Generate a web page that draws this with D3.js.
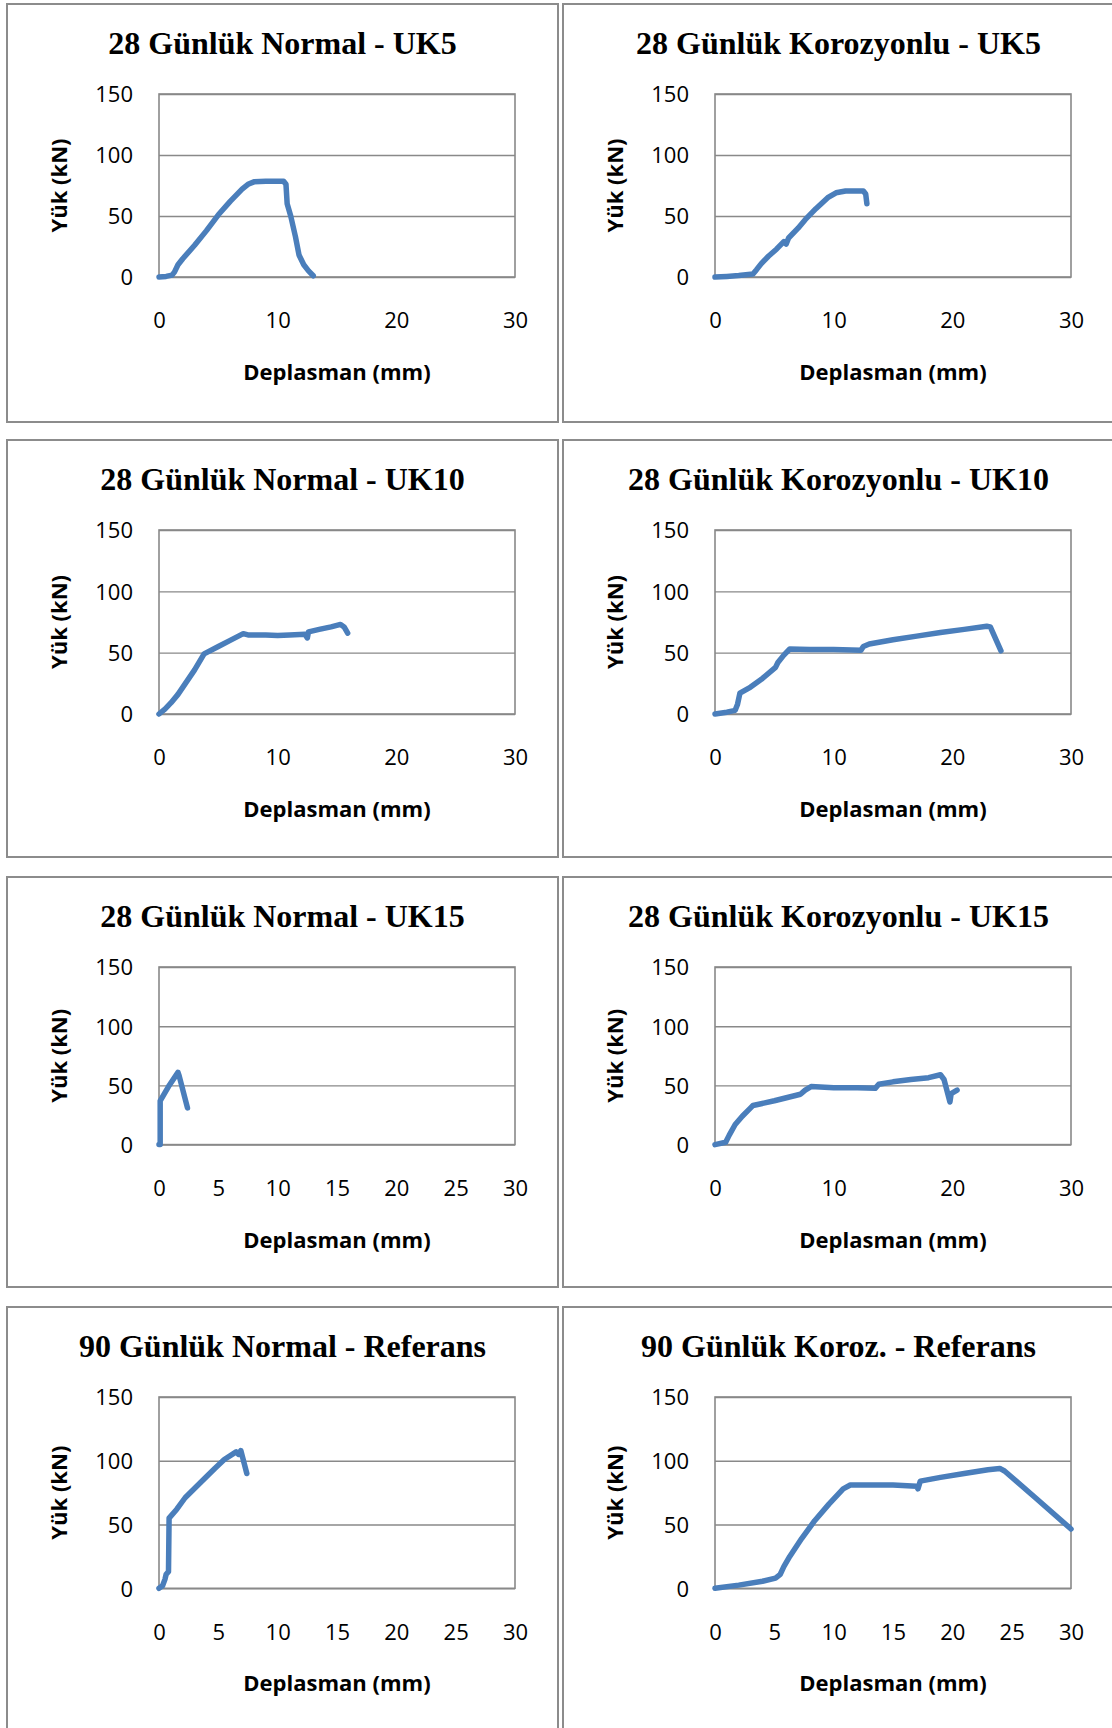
<!DOCTYPE html>
<html><head><meta charset="utf-8">
<script src="https://cdn.jsdelivr.net/npm/d3@7"></script>
<style>body{margin:0;background:#fff} svg{display:block}</style>
</head><body><svg id="c" width="1112" height="1728"></svg>
<script>
const titles = ["28 Günlük Normal - UK5", "28 Günlük Korozyonlu - UK5", "28 Günlük Normal - UK10", "28 Günlük Korozyonlu - UK10", "28 Günlük Normal - UK15", "28 Günlük Korozyonlu - UK15", "90 Günlük Normal - Referans", "90 Günlük Koroz. - Referans"];
const yTicks = [0, 50, 100, 150];
const xTicks10 = [0, 10, 20, 30];
const xTicks5 = [0, 5, 10, 15, 20, 25, 30];
const panelXTicks = [xTicks10, xTicks10, xTicks10, xTicks10, xTicks5, xTicks10, xTicks5, xTicks5];
const yLabel = "Yük (kN)";
const xLabel = "Deplasman (mm)";

// [deplasman (mm), yük (kN)]
const normalUK5 = [[0,0],[0.6,0.5],[1.1,1.5],[1.3,4],[1.6,10],[2,15],[3,26],[4,38],[5,51],[6,62],[7,72],[7.5,76],[8,78],[9,78.5],[10,78.5],[10.5,78.5],[10.7,76],[10.8,60],[11.1,50],[11.5,33],[11.8,18],[12.2,10],[12.6,5],[13,1]];
const korUK5 = [[0,0],[1,0.5],[2,1.2],[3.2,2.5],[3.5,6],[3.9,11],[4.5,17],[5.2,23],[5.8,29],[6,27],[6.2,32],[7,40],[7.6,47],[8.5,56],[9.5,65],[10.2,69],[11,70.5],[12.5,70.5],[12.7,68],[12.8,60]];
const normalUK10 = [[0,0],[0.5,4],[1,9],[1.6,16],[2.3,26],[3,36],[3.8,49],[5,55],[6,60],[7.1,65.5],[7.5,64.5],[9,64.5],[10,64],[11,64.5],[12.3,65],[12.5,62],[12.6,67],[13.5,69],[14.5,71],[15.3,73],[15.6,71],[15.9,66]];
const korUK10 = [[0,0],[1,1.5],[1.7,3],[1.9,8],[2.1,17],[3,22],[4,29],[5.1,38],[5.3,42],[5.8,48],[6.3,53],[8,52.5],[10,52.5],[12.3,52],[12.5,55],[13,57],[15,60.5],[17,63.5],[19,66.5],[21,69],[22.9,71.5],[23.2,71],[24.1,51.5]];
const normalUK15 = [[0,0],[0.1,0],[0.1,37],[0.8,49],[1.6,61],[1.7,58],[2.4,31]];
const korUK15 = [[0,0],[0.9,2],[1.2,8],[1.7,17],[2.3,24],[3,31],[3.2,33],[5,37],[7.2,42.5],[7.6,46],[8.1,49],[10,48],[12,48],[13.5,47.5],[13.8,51],[15,53],[16.5,55],[18,56.5],[19,59],[19.3,55],[19.8,36],[19.9,43],[20.4,46]];
const normalRef = [[0,0],[0.3,2],[0.5,7],[0.6,11],[0.8,13],[0.85,55],[1.5,62],[2.2,71],[3.5,83],[4.7,94],[5.5,101],[6.5,107],[6.7,105],[6.9,108],[7.4,90]];
const korRef = [[0,0],[2,2.5],[4,5.5],[5.1,8],[5.5,11],[5.8,17],[6.3,25],[7.3,39],[8.4,53],[9.6,66],[10.8,78],[11.4,81],[13,81],[15,81],[17,80],[17.1,78],[17.3,84],[19,87],[21,90],[23,93],[24,94],[24.4,92],[27,71],[30,46.5]];

const series = [normalUK5, korUK5, normalUK10, korUK10, normalUK15, korUK15, normalRef, korRef];

const svg = d3.select("#c");
const colX = [7, 563], rowY = [4, 440, 877, 1307];
const boxW = 551, boxH = [418, 417, 410, 440];
const plotH = [183, 184, 177.6, 191.3];
const gridColor = "#898989", lineColor = "#4A7EBB";

series.forEach((data, i) => {
  const c = i % 2, r = Math.floor(i / 2);
  const bx = colX[c], by = rowY[r];
  const g = svg.append("g");
  g.append("rect").attr("x", bx).attr("y", by).attr("width", boxW).attr("height", boxH[r])
    .attr("fill", "#fff").attr("stroke", "#8c8c8c").attr("stroke-width", 2);

  const px = bx + 152, py = by + 90, pw = 356, ph = plotH[r];
  const x = d3.scaleLinear().domain([0, 30]).range([px, px + pw]);
  const y = d3.scaleLinear().domain([0, 150]).range([py + ph, py]);

  // title
  g.append("text").attr("x", bx + boxW / 2).attr("y", by + 50).attr("text-anchor", "middle")
    .attr("font-family", "Liberation Serif, Times New Roman, serif").attr("font-weight", "bold")
    .attr("font-size", 32).text(titles[i]);

  // gridlines
  const grid = g.append("g").attr("transform", `translate(${px},0)`)
    .call(d3.axisLeft(y).tickValues(yTicks).tickSize(-pw).tickFormat(""));
  grid.select(".domain").remove();
  grid.selectAll("line").attr("stroke", gridColor).attr("stroke-width", 1.4);

  // plot border
  g.append("rect").attr("x", px).attr("y", py).attr("width", pw).attr("height", ph)
    .attr("fill", "none").attr("stroke", gridColor).attr("stroke-width", 1.6);

  // y tick labels
  const ya = g.append("g").attr("transform", `translate(${px},0)`)
    .call(d3.axisLeft(y).tickValues(yTicks).tickSize(0).tickPadding(26));
  ya.select(".domain").remove();
  ya.selectAll("text").attr("font-family", "Open Sans").attr("font-size", 22).attr("fill", "#000").attr("dy", "0.36em");

  // x tick labels
  const xa = g.append("g").attr("transform", `translate(0,${py + ph})`)
    .call(d3.axisBottom(x).tickValues(panelXTicks[i]).tickSize(0));
  xa.select(".domain").remove();
  xa.selectAll("text").attr("font-family", "Open Sans").attr("font-size", 22).attr("fill", "#000")
    .attr("y", 43.5).attr("dy", "0.36em");

  // axis titles
  g.append("text").attr("x", px + pw / 2).attr("y", py + ph + 103).attr("text-anchor", "middle")
    .attr("font-family", "Open Sans").attr("font-weight", "bold").attr("font-size", 22).text(xLabel);
  g.append("text").attr("transform", `translate(${bx + 52},${py + ph / 2}) rotate(-90)`)
    .attr("text-anchor", "middle").attr("dy", "0.36em")
    .attr("font-family", "Open Sans").attr("font-weight", "bold").attr("font-size", 22).text(yLabel);

  // curve
  g.append("path").datum(data)
    .attr("d", d3.line().x(d => x(d[0])).y(d => y(d[1])))
    .attr("fill", "none").attr("stroke", lineColor).attr("stroke-width", 5.5)
    .attr("stroke-linejoin", "round").attr("stroke-linecap", "round");
});
</script></body></html>
